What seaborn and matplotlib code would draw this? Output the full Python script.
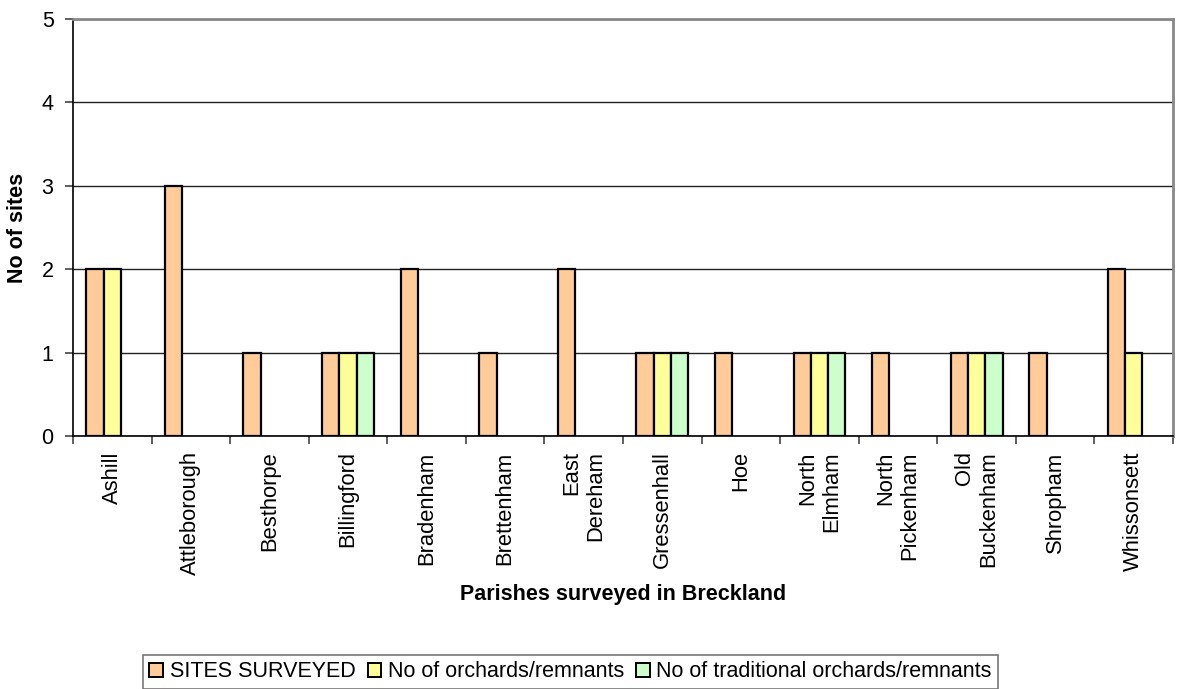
import matplotlib
matplotlib.use("Agg")
import matplotlib.pyplot as plt
import seaborn as sns
import pandas as pd
import numpy as np

parishes = ["Ashill", "Attleborough", "Besthorpe", "Billingford", "Bradenham",
            "Brettenham", "East\nDereham", "Gressenhall", "Hoe", "North\nElmham",
            "North\nPickenham", "Old\nBuckenham", "Shropham", "Whissonsett"]
sites_surveyed = [2, 3, 1, 1, 2, 1, 2, 1, 1, 1, 1, 1, 1, 2]
orchards = [2, 0, 0, 1, 0, 0, 0, 1, 0, 1, 0, 1, 0, 1]
traditional = [0, 0, 0, 1, 0, 0, 0, 1, 0, 1, 0, 1, 0, 0]

series_names = ["SITES SURVEYED", "No of orchards/remnants",
                "No of traditional orchards/remnants"]
colors = ["#FFCC99", "#FFFF99", "#CCFFCC"]

df = pd.DataFrame({
    "parish": parishes * 3,
    "series": np.repeat(series_names, len(parishes)),
    "value": sites_surveyed + orchards + traditional,
})
# empty counts get no bar at all
bars = df[df["value"] > 0]

sns.set_theme(style="white")
plt.rcParams["font.family"] = ["Liberation Sans", "DejaVu Sans"]
plt.rcParams["text.color"] = "black"
plt.rcParams["axes.labelcolor"] = "black"
plt.rcParams["xtick.color"] = "black"
plt.rcParams["ytick.color"] = "black"

fig = plt.figure(figsize=(11.79, 6.89), dpi=100)
ax = fig.add_axes([73 / 1179, 1 - 436 / 689, 1100 / 1179, 417 / 689])

sns.barplot(data=bars, x="parish", y="value", hue="series", order=parishes,
            hue_order=series_names, palette=colors, saturation=1, width=0.66,
            gap=0, errorbar=None, ax=ax, edgecolor="black", linewidth=1.6,
            legend=False, zorder=3)

ax.set_ylim(0, 5)
ax.set_xlim(-0.5, len(parishes) - 0.5)
ax.set_yticks(range(6))
ax.yaxis.grid(True, color="#222222", linewidth=1.0, zorder=0)
ax.xaxis.grid(False)
ax.set_axisbelow(True)

for side in ["top", "right"]:
    ax.spines[side].set_color("#888888")
    ax.spines[side].set_linewidth(2.0)
for side in ["left", "bottom"]:
    ax.spines[side].set_color("black")
    ax.spines[side].set_linewidth(1.2)

# category ticks sit on the group boundaries
ax.set_xticks(np.arange(-0.5, len(parishes) + 0.5, 1), minor=True)
ax.tick_params(axis="x", which="minor", length=6, width=1.2, color="#444444",
               direction="out", bottom=True)
ax.tick_params(axis="x", which="major", length=0, pad=11)
ax.tick_params(axis="y", which="major", length=6, width=1.2, color="#444444",
               direction="out", left=True, labelsize=15.5, pad=8)
ax.set_xticks(range(len(parishes)))
ax.set_xticklabels(parishes, rotation=90, fontsize=15.8, va="top", ha="center",
                   multialignment="right")

ax.set_ylabel("No of sites", fontsize=15.5, fontweight="bold", labelpad=10)
ax.set_xlabel("Parishes surveyed in Breckland", fontsize=15.5, fontweight="bold",
              labelpad=6)

handles = [plt.Rectangle((0, 0), 1, 1, facecolor=c, edgecolor="black", linewidth=1.4)
           for c in colors]
leg = fig.legend(handles, series_names, loc="upper left",
                 bbox_to_anchor=(143 / 1179, 1 - 655 / 689), ncol=3,
                 fontsize=15.5, frameon=True, fancybox=False, edgecolor="#555555",
                 handlelength=0.65, handleheight=0.65, handletextpad=0.3,
                 columnspacing=0.55, borderpad=0.3, borderaxespad=0)
leg.get_frame().set_linewidth(1.2)

fig.savefig("out.png", dpi=100, facecolor="white")
